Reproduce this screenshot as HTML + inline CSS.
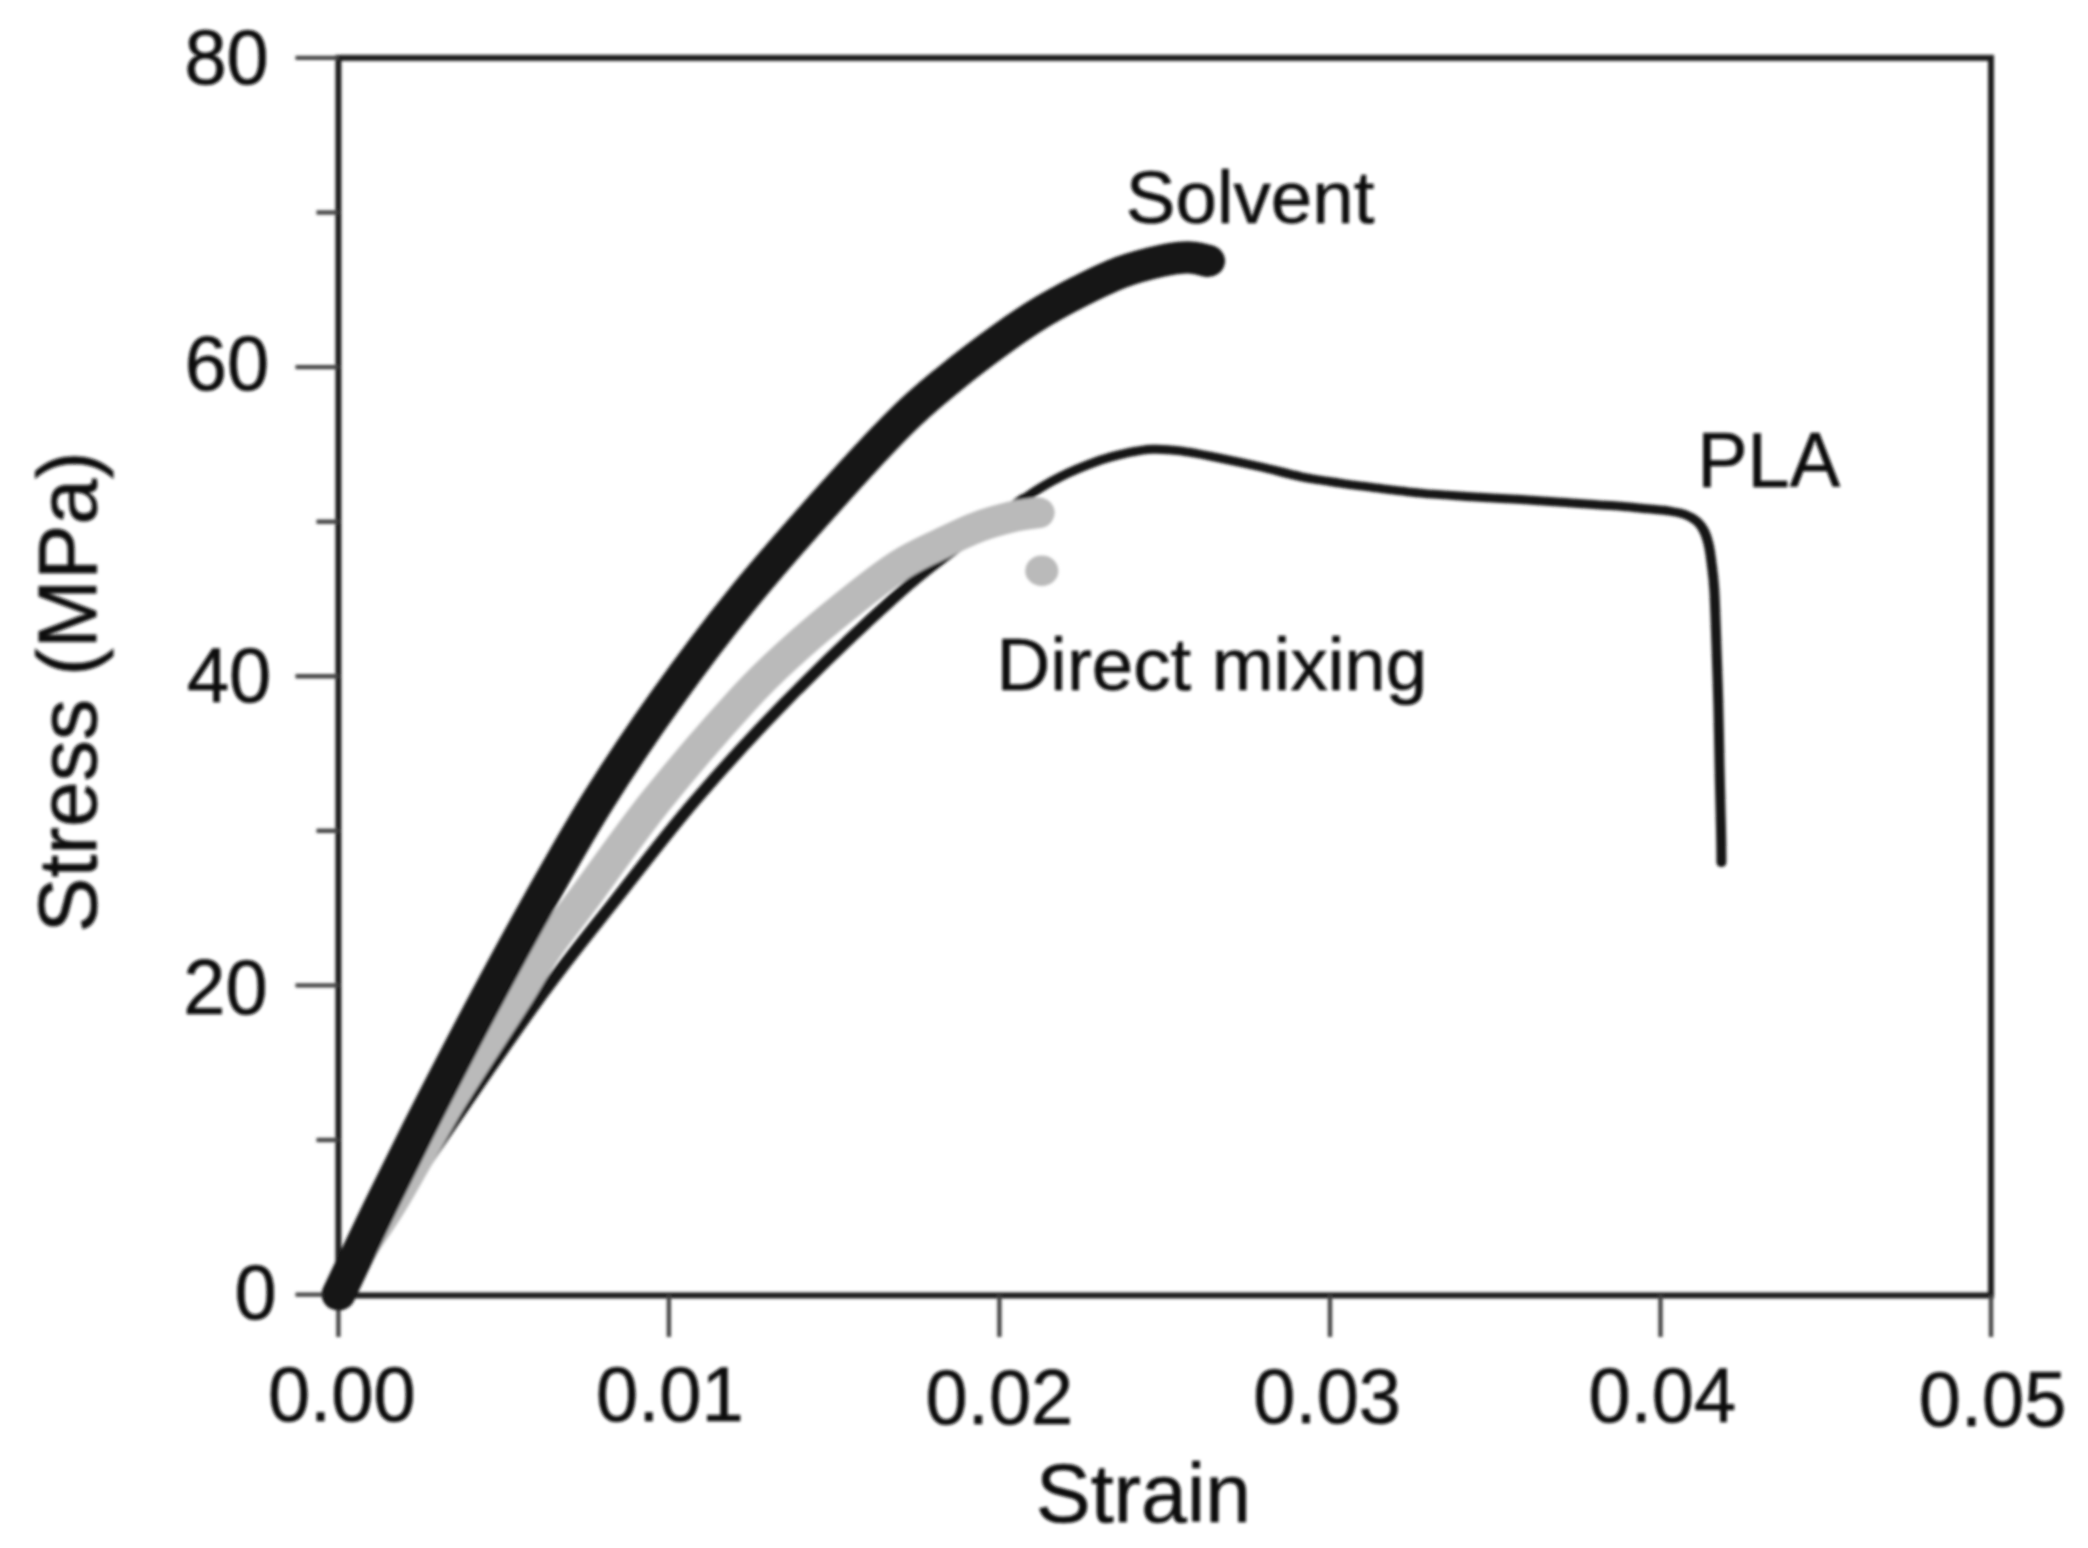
<!DOCTYPE html>
<html lang="en"><head><meta charset="utf-8"><title>Stress-strain curves</title>
<style>html,body{margin:0;padding:0;background:#fff;}body{width:2088px;height:1548px;overflow:hidden;}svg{display:block;}text{font-family:"Liberation Sans",Arial,Helvetica,sans-serif;fill:#111111;stroke:#111111;stroke-width:0.6px;}</style></head><body>
<svg width="2088" height="1548" viewBox="0 0 2088 1548">
<defs><filter id="soft" x="-2%" y="-2%" width="104%" height="104%"><feGaussianBlur stdDeviation="1.6"/></filter></defs>
<rect width="2088" height="1548" fill="#ffffff"/>
<g filter="url(#soft)">
<rect x="338.4" y="57.9" width="1652.6" height="1237.5" fill="none" stroke="#1e1e1e" stroke-width="6.0"/>
<line x1="295.5" y1="1294.6" x2="338.4" y2="1294.6" stroke="#454545" stroke-width="4.4"/>
<line x1="316.5" y1="1140.0" x2="338.4" y2="1140.0" stroke="#454545" stroke-width="4.4"/>
<line x1="295.5" y1="985.4" x2="338.4" y2="985.4" stroke="#454545" stroke-width="4.4"/>
<line x1="316.5" y1="830.8" x2="338.4" y2="830.8" stroke="#454545" stroke-width="4.4"/>
<line x1="295.5" y1="676.2" x2="338.4" y2="676.2" stroke="#454545" stroke-width="4.4"/>
<line x1="316.5" y1="521.7" x2="338.4" y2="521.7" stroke="#454545" stroke-width="4.4"/>
<line x1="295.5" y1="367.1" x2="338.4" y2="367.1" stroke="#454545" stroke-width="4.4"/>
<line x1="316.5" y1="212.5" x2="338.4" y2="212.5" stroke="#454545" stroke-width="4.4"/>
<line x1="295.5" y1="57.9" x2="338.4" y2="57.9" stroke="#454545" stroke-width="4.4"/>
<line x1="338.4" y1="1295.4" x2="338.4" y2="1337.0" stroke="#454545" stroke-width="4.4"/>
<line x1="668.9" y1="1295.4" x2="668.9" y2="1337.0" stroke="#454545" stroke-width="4.4"/>
<line x1="999.4" y1="1295.4" x2="999.4" y2="1337.0" stroke="#454545" stroke-width="4.4"/>
<line x1="1330.0" y1="1295.4" x2="1330.0" y2="1337.0" stroke="#454545" stroke-width="4.4"/>
<line x1="1660.5" y1="1295.4" x2="1660.5" y2="1337.0" stroke="#454545" stroke-width="4.4"/>
<line x1="1991.0" y1="1295.4" x2="1991.0" y2="1337.0" stroke="#454545" stroke-width="4.4"/>
<g transform="scale(1.1111,1)"><path d="M304.6,1294.4 C318.9,1270.3 360.7,1199.1 390.6,1150.0 C420.5,1100.9 456.9,1041.7 484.1,1000.0 C511.3,958.3 530.2,933.3 553.9,900.0 C577.5,866.7 600.2,833.3 626.0,800.0 C651.8,766.7 678.8,733.8 708.7,700.0 C738.6,666.2 779.9,622.6 805.5,597.0 C831.1,571.4 842.7,563.0 862.2,546.5 C881.7,530.0 907.2,509.6 922.5,498.0 C937.8,486.4 942.8,483.3 954.0,477.0 C965.2,470.7 980.0,464.3 990.0,460.3 C1000.0,456.3 1006.4,454.8 1014.3,452.9 C1022.2,451.0 1029.2,449.5 1037.2,449.2 C1045.3,448.9 1052.4,449.4 1062.6,450.9 C1072.9,452.4 1086.7,455.6 1098.8,458.3 C1110.9,461.0 1123.0,463.9 1135.1,467.0 C1147.2,470.1 1159.4,474.1 1171.3,476.8 C1183.1,479.5 1195.7,481.4 1206.0,483.1 C1216.3,484.8 1221.2,485.4 1233.3,487.1 C1245.4,488.8 1263.5,491.5 1278.5,493.1 C1293.6,494.7 1308.7,495.6 1323.8,496.7 C1338.9,497.8 1353.9,498.6 1369.0,499.6 C1384.1,500.6 1402.4,502.0 1414.3,502.9 C1426.1,503.8 1432.2,504.3 1440.0,504.9 C1447.8,505.5 1454.0,505.8 1461.0,506.4 C1467.9,507.0 1474.9,508.0 1481.8,508.8 C1488.8,509.6 1497.0,510.1 1502.8,511.1 C1508.6,512.1 1512.7,512.9 1516.8,514.6 C1520.8,516.3 1524.4,518.6 1527.2,521.2 C1530.0,523.9 1531.8,526.8 1533.5,530.5 C1535.2,534.2 1536.5,538.2 1537.6,543.6 C1538.8,549.0 1539.6,555.3 1540.4,563.0 C1541.3,570.7 1542.2,576.8 1542.9,590.0 C1543.6,603.2 1544.1,623.0 1544.7,642.0 C1545.3,661.0 1546.0,683.3 1546.5,704.0 C1547.0,724.7 1547.2,745.3 1547.6,766.0 C1548.0,786.7 1548.6,811.9 1548.9,828.0 C1549.2,844.1 1549.3,856.8 1549.3,862.5" fill="none" stroke="#151515" stroke-width="9.0" stroke-linecap="round" stroke-linejoin="round"/></g>
<g transform="scale(1.5000,1)"><path d="M225.6,1294.4 C236.2,1270.3 267.2,1199.1 289.3,1150.0 C311.5,1100.9 338.4,1041.7 358.6,1000.0 C378.8,958.3 392.7,933.3 410.3,900.0 C427.8,866.7 444.6,833.3 463.7,800.0 C482.8,766.7 502.8,733.8 524.9,700.0 C547.1,666.2 577.7,622.6 596.7,597.0 C615.6,571.4 624.2,563.0 638.7,546.5 C653.1,530.0 675.9,506.1 683.3,498.0" fill="none" stroke="#151515" stroke-width="9.0" stroke-linecap="round" stroke-linejoin="round"/></g>
<g transform="scale(1.0806,1)"><path d="M313.1,1294.4 C316.6,1287.0 325.2,1265.7 333.6,1250.0 C342.0,1234.3 349.7,1225.0 363.5,1200.0 C377.3,1175.0 397.8,1133.3 416.6,1100.0 C435.4,1066.7 461.4,1025.0 476.0,1000.0 C490.6,975.0 493.8,966.7 504.3,950.0 C514.8,933.3 521.9,925.0 539.1,900.0 C556.3,875.0 583.0,833.3 607.7,800.0 C632.4,766.7 666.0,725.0 687.1,700.0 C708.2,675.0 717.2,666.7 734.2,650.0 C751.2,633.3 772.8,614.2 789.3,600.0 C805.7,585.8 819.4,574.3 832.8,565.0 C846.3,555.7 857.7,550.5 869.8,544.2 C881.8,537.9 893.7,531.6 904.9,527.0 C916.1,522.4 927.6,519.2 936.8,516.8 C946.1,514.4 956.6,513.5 960.5,512.8" fill="none" stroke="#bababa" stroke-width="31.0" stroke-linecap="round" stroke-linejoin="round"/></g>
<ellipse cx="1041.8" cy="570.8" rx="16.6" ry="15.2" fill="#bababa"/>
<g transform="scale(1.0559,1)"><path d="M320.6,1294.4 C327.7,1278.7 348.3,1232.4 363.3,1200.0 C378.3,1167.6 394.5,1133.3 410.6,1100.0 C426.8,1066.7 443.1,1033.3 460.0,1000.0 C476.8,966.7 493.9,933.3 511.7,900.0 C529.5,866.7 547.1,833.3 566.9,800.0 C586.7,766.7 607.8,733.3 630.4,700.0 C652.9,666.7 676.5,633.3 702.1,600.0 C727.6,566.7 758.8,529.6 783.9,500.0 C808.9,470.4 833.0,442.6 852.4,422.3 C871.7,402.0 883.9,392.0 899.7,378.3 C915.5,364.6 932.8,350.9 947.1,340.0 C961.3,329.1 972.7,321.0 985.4,312.8 C998.2,304.6 1010.8,297.6 1023.5,290.8 C1036.2,284.1 1048.9,277.3 1061.6,272.3 C1074.3,267.3 1089.1,263.4 1099.7,260.9 C1110.3,258.4 1117.7,257.4 1125.1,257.4 C1132.5,257.4 1141.0,260.3 1144.1,260.9" fill="none" stroke="#171717" stroke-width="32.2" stroke-linecap="round" stroke-linejoin="round"/></g>
<text transform="translate(184.4,84.1) scale(1.012,1.045)" font-size="75">80</text>
<text transform="translate(184.85,390.25) scale(1.012,1.045)" font-size="75">60</text>
<text transform="translate(186.9,702.0) scale(1.012,1.045)" font-size="75">40</text>
<text transform="translate(183.3,1014.0) scale(1.012,1.045)" font-size="75">20</text>
<text transform="translate(234.55,1318.55) scale(1.012,1.045)" font-size="75">0</text>
<text transform="translate(267.9,1421.1) scale(1.012,1.045)" font-size="75">0.00</text>
<text transform="translate(596.0,1421.5) scale(1.012,1.045)" font-size="75">0.01</text>
<text transform="translate(925.6,1424.2) scale(1.012,1.045)" font-size="75">0.02</text>
<text transform="translate(1253.35,1423.4) scale(1.012,1.045)" font-size="75">0.03</text>
<text transform="translate(1588.45,1422.0) scale(1.012,1.045)" font-size="75">0.04</text>
<text transform="translate(1918.75,1426.2) scale(1.012,1.045)" font-size="75">0.05</text>
<text transform="translate(1035.65,1522.4)" font-size="82.5">Strain</text>
<text transform="translate(96.25,932.65) rotate(-90)" font-size="82.5">Stress (MPa)</text>
<text transform="translate(1125.85,223.25)" font-size="74.5">Solvent</text>
<text transform="translate(1697.15,486.8) scale(1.015,1.035)" font-size="74.5">PLA</text>
<text transform="translate(996.55,689.6)" font-size="74.5">Direct mixing</text>
</g>
</svg></body></html>
